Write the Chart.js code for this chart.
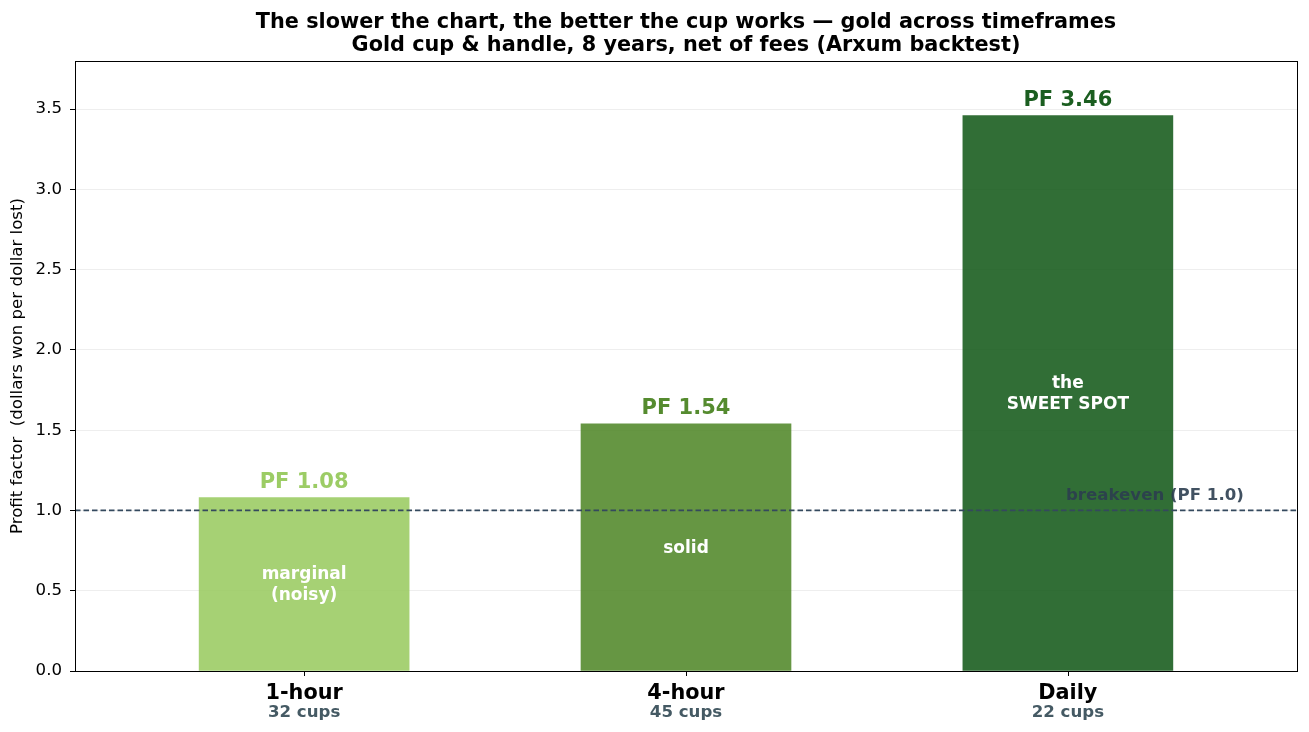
<!DOCTYPE html>
<html>
<head>
<meta charset="utf-8">
<script src="https://cdn.jsdelivr.net/npm/chart.js@4/dist/chart.umd.min.js"></script>
<style>
html,body{margin:0;padding:0;background:#fff;}
#wrap{width:1309px;height:732px;position:relative;}
</style>
</head>
<body>
<div id="wrap"><canvas id="c" width="1309" height="732"></canvas></div>
<script>
const categories = ["1-hour", "4-hour", "Daily"];
const cupCounts = ["32 cups", "45 cups", "22 cups"];
const profitFactors = [1.08, 1.54, 3.46];
const valueLabels = ["PF 1.08", "PF 1.54", "PF 3.46"];
const innerNotes = [["marginal", "(noisy)"], ["solid"], ["the", "SWEET SPOT"]];
const yTickValues = [0, 0.5, 1, 1.5, 2, 2.5, 3, 3.5];
const breakevenValue = 1.0;
const breakevenLabel = "breakeven (PF 1.0)";
const titleLines = ["The slower the chart, the better the cup works \u2014 gold across timeframes", "Gold cup & handle, 8 years, net of fees (Arxum backtest)"];
const yTitle = "Profit factor  (dollars won per dollar lost)";

const FONT = "'DejaVu Sans', sans-serif";
const barColors = ["rgba(156,204,101,0.9)", "rgba(85,139,47,0.9)", "rgba(27,94,32,0.9)"];
const labelColors = ["#9ccc65", "#558b2f", "#1b5e20"];

const overlay = {
  id: "overlay",
  afterDatasetsDraw(chart) {
    const ctx = chart.ctx, a = chart.chartArea;
    const xs = chart.scales.x, ys = chart.scales.y;
    ctx.save();
    // breakeven line
    const yb = ys.getPixelForValue(breakevenValue);
    ctx.strokeStyle = "#34495e"; ctx.lineWidth = 1.7; ctx.setLineDash([5.5, 3]);
    ctx.beginPath(); ctx.moveTo(a.left, yb); ctx.lineTo(a.right, yb); ctx.stroke();
    ctx.setLineDash([]);
    ctx.globalAlpha = 0.9;
    ctx.fillStyle = "#2c3e50"; ctx.font = "bold 16.6px " + FONT;
    ctx.textAlign = "left"; ctx.textBaseline = "alphabetic";
    ctx.fillText(breakevenLabel, xs.getPixelForValue(1.995), yb - 10);
    ctx.globalAlpha = 1;
    // value labels & inner notes
    profitFactors.forEach((v, i) => {
      const x = xs.getPixelForValue(i);
      const yt = ys.getPixelForValue(v);
      ctx.fillStyle = labelColors[i]; ctx.font = "bold 21px " + FONT;
      ctx.textAlign = "center"; ctx.textBaseline = "alphabetic";
      ctx.fillText(valueLabels[i], x, yt - 10);
      const ym = ys.getPixelForValue(v / 2);
      const lines = innerNotes[i];
      ctx.fillStyle = "#ffffff"; ctx.font = "bold 17px " + FONT;
      ctx.textBaseline = "middle";
      const lh = 21;
      lines.forEach((t, k) => {
        ctx.fillText(t, x, ym + 1 + (k - (lines.length - 1) / 2) * lh);
      });
    });
    // frame
    ctx.strokeStyle = "#000"; ctx.lineWidth = 1;
    ctx.strokeRect(Math.round(a.left) + 0.5, Math.round(a.top) + 0.5, Math.round(a.right - a.left), Math.round(a.bottom - a.top));
    // x ticks and labels
    categories.forEach((c, i) => {
      const x = Math.round(xs.getPixelForValue(i)) + 0.5;
      ctx.beginPath(); ctx.moveTo(x, a.bottom); ctx.lineTo(x, a.bottom + 5); ctx.stroke();
      ctx.fillStyle = "#000"; ctx.font = "bold 20.8px " + FONT;
      ctx.textAlign = "center"; ctx.textBaseline = "middle";
      ctx.fillText(c, xs.getPixelForValue(i), a.bottom + 23);
      ctx.fillStyle = "#455a64"; ctx.font = "bold 16.6px " + FONT;
      ctx.fillText(cupCounts[i], xs.getPixelForValue(i), a.bottom + 42);
    });
    // title
    const cx = (a.left + a.right) / 2;
    ctx.fillStyle = "#000"; ctx.font = "bold 20.8px " + FONT;
    ctx.textAlign = "center"; ctx.textBaseline = "middle";
    ctx.fillText(titleLines[0], cx, 22.5);
    ctx.fillText(titleLines[1], cx, 45.5);
    ctx.restore();
  }
};

new Chart(document.getElementById("c"), {
  type: "bar",
  data: {
    datasets: [{
      data: profitFactors.map((v, i) => ({ x: i, y: v })),
      backgroundColor: barColors,
      borderWidth: 0,
      barThickness: 210
    }]
  },
  options: {
    responsive: false,
    animation: false,
    devicePixelRatio: 1,
    layout: { padding: { left: 0, top: 61, right: 12, bottom: 61 } },
    plugins: { legend: { display: false }, tooltip: { enabled: false }, title: { display: false } },
    scales: {
      x: {
        type: "linear", min: -0.6, max: 2.6, offset: false,
        ticks: { display: false },
        grid: { display: false, drawTicks: false },
        border: { display: false },
        afterFit(s) { s.height = 0; }
      },
      y: {
        min: 0, max: 3.8, z: 1,
        afterBuildTicks(s) { s.ticks = yTickValues.map(v => ({ value: v })); },
        ticks: {
          color: "#000", font: { family: FONT, size: 16.6 }, padding: 8,
          callback: v => v.toFixed(1)
        },
        grid: { color: "rgba(176,176,176,0.22)", tickColor: "#000", tickLength: 5, lineWidth: 1 },
        border: { display: true, color: "#000" },
        title: { display: true, text: yTitle, color: "#000", font: { family: FONT, size: 16.6 }, padding: { top: 8, bottom: 0 } },
        afterFit(s) { s.width = 75; }
      }
    }
  },
  plugins: [overlay]
});
</script>
</body>
</html>
